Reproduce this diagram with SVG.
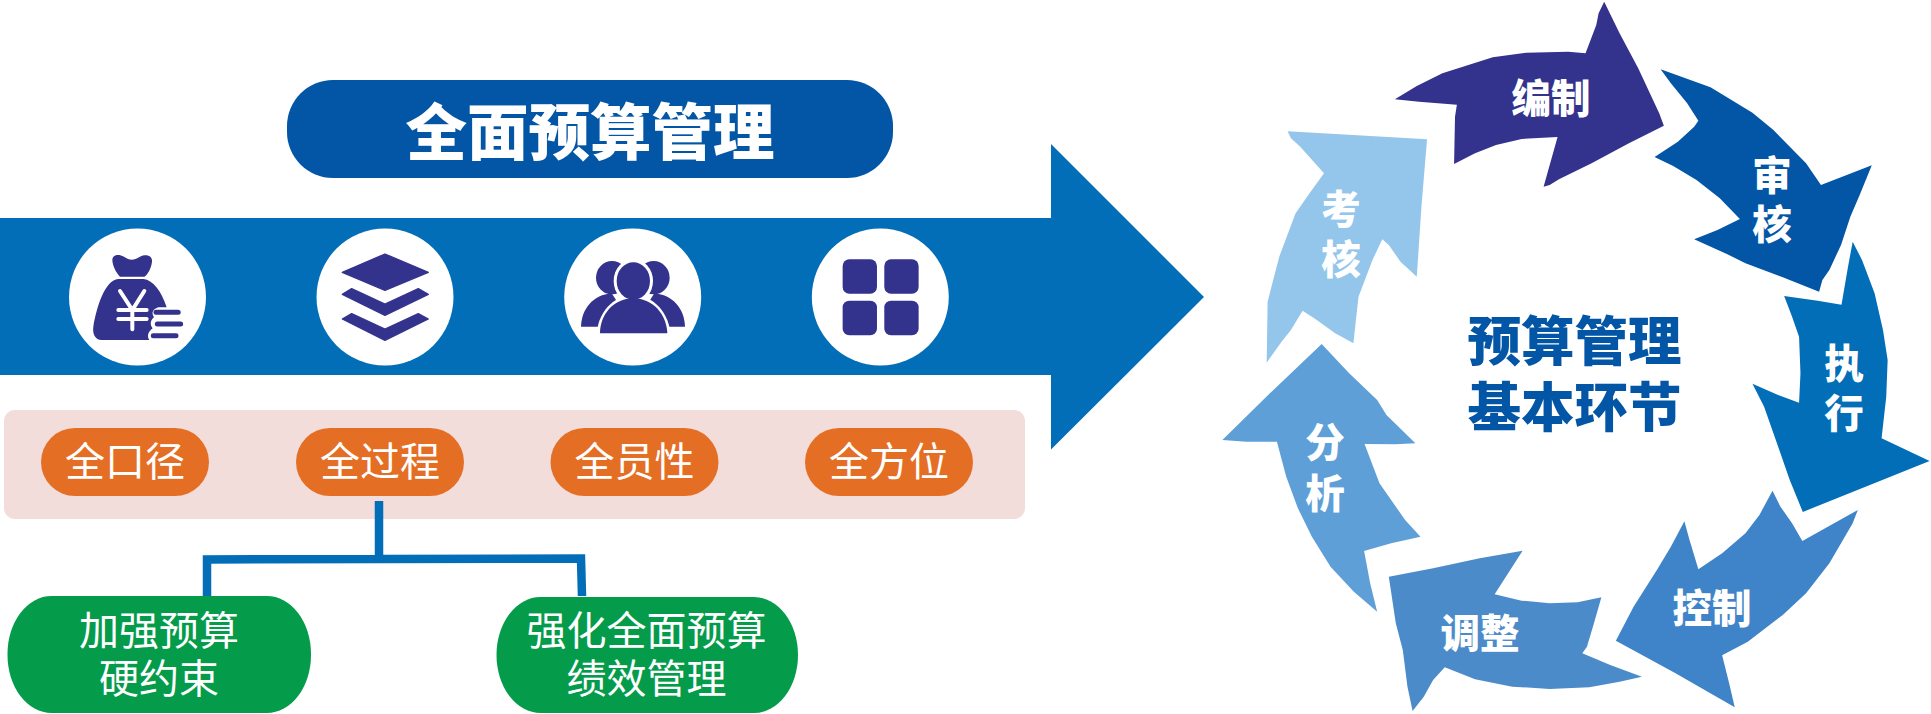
<svg xmlns="http://www.w3.org/2000/svg" width="1931" height="714" viewBox="0 0 1931 714">
<style>
text{font-family:"Noto Sans CJK SC","Noto Sans",sans-serif;text-anchor:middle;dominant-baseline:central;fill:#fff}
.pill{font-size:40px;font-weight:400}
.green{font-size:40px;font-weight:400}
.lab{font-size:39.500px;font-weight:900}
.ctr{font-size:53.500px;font-weight:900;fill:#0356a6}
.ink{fill:#33328d}
.circ{fill:#fff}
.or{fill:#e56e25}
.gr{fill:#049b4b}
</style>
<rect width="1931" height="714" fill="#fff"/>
<g id="main-arrow"><polygon points="0,218 1051,218 1051,144 1204,297 1051,449.500 1051,375 0,375" fill="#036eb8"/></g>
<g id="title"><rect x="287" y="80" width="606" height="98" rx="46" fill="#0356a6"/><text x="590" y="128" font-size="61.500" font-weight="900">全面预算管理</text></g>
<g id="icon-bag"><circle class="circ" cx="137.500" cy="297" r="68.500"/>
<g transform="translate(50,230) scale(.3333)">
<path class="ink" d="M187 90C187 75 205 70 222 80C240 92 250 92 270 80C290 70 308 78 306 95C304 115 292 135 283 140H210C200 130 188 110 187 90Z"/>
<path class="ink" d="M205 147H280C310 150 335 185 350 232H325C305 240 305 250 312 262C300 272 300 285 308 295C295 305 290 318 298 330H155C135 330 127 310 130 290C140 230 165 150 205 147Z"/>
<path d="M210 183L247 240L283 183M247 240V298M205 240H290M205 267H290" fill="none" stroke="#fff" stroke-width="12" stroke-linecap="round"/>
<path d="M318 247H385M322 282H392M310 317H378" fill="none" stroke="#33328d" stroke-width="15" stroke-linecap="round"/>
</g></g>
<g id="icon-layers"><circle class="circ" cx="385" cy="297" r="68.500"/>
<g transform="translate(50,230) scale(.3333)" stroke="#33328d" stroke-width="4" stroke-linejoin="round">
<polygon class="ink" points="877,127 1005,72 1135,127 1005,181"/>
<polygon class="ink" points="877,193 905,176 1005,222 1105,176 1135,193 1005,256"/>
<polygon class="ink" points="877,267 905,251 1005,297 1105,251 1135,267 1005,331"/>
</g></g>
<g id="icon-people"><circle class="circ" cx="632.700" cy="297" r="68.500"/>
<g transform="translate(550,230) scale(.3333)">
<ellipse class="ink" cx="186" cy="143" rx="48" ry="50"/><ellipse class="ink" cx="311" cy="143" rx="48" ry="50"/>
<path class="ink" d="M93 290C95 235 130 195 185 190L250 290Z"/><path class="ink" d="M405 290C403 235 368 195 313 190L250 290Z"/>
<ellipse cx="250" cy="153" rx="59" ry="66" fill="#fff"/>
<path d="M140 320C140 250 190 195 250 195C310 195 360 250 362 320Z" fill="#fff"/>
<ellipse class="ink" cx="250" cy="153" rx="50" ry="56"/>
<path class="ink" d="M150 310C150 255 190 205 250 205C310 205 350 255 352 310Z"/>
</g></g>
<g id="icon-grid"><circle class="circ" cx="880.300" cy="297" r="68.500"/>
<g transform="translate(550,230) scale(.3333)">
<rect class="ink" x="878" y="88" width="103" height="103" rx="20"/><rect class="ink" x="1003" y="88" width="103" height="103" rx="20"/>
<rect class="ink" x="878" y="212" width="103" height="104" rx="20"/><rect class="ink" x="1003" y="212" width="103" height="104" rx="20"/>
</g></g>
<g id="panel"><rect x="4" y="410" width="1021" height="109" rx="11" fill="#f2dddb"/></g>
<g id="connectors">
<path d="M379 501V559M207 596V559.500L581 558.500L582 596" fill="none" stroke="#036eb8" stroke-width="8.500"/>
</g>
<g id="p1"><rect class="or" x="41" y="428" width="168" height="68" rx="34"/><text class="pill" x="125" y="459">全口径</text></g>
<g id="p2"><rect class="or" x="296" y="428" width="168" height="68" rx="34"/><text class="pill" x="380" y="459">全过程</text></g>
<g id="p3"><rect class="or" x="550.500" y="428" width="168" height="68" rx="34"/><text class="pill" x="634.500" y="459">全员性</text></g>
<g id="p4"><rect class="or" x="805" y="428" width="168" height="68" rx="34"/><text class="pill" x="889" y="459">全方位</text></g>
<g id="g1"><rect class="gr" x="7.500" y="596" width="303.500" height="117" rx="44" ry="58"/><text class="green" x="159" y="628">加强预算</text><text class="green" x="159" y="676">硬约束</text></g>
<g id="g2"><rect class="gr" x="496.500" y="597" width="301.500" height="116" rx="44" ry="58"/><text class="green" x="646.500" y="628">强化全面预算</text><text class="green" x="646.500" y="676">绩效管理</text></g>

<g id="a-bianzhi"><polygon transform="translate(1200,0) scale(.4662,.3333)" fill="#33328d" points="867,5 855,40 850,75 827,160 790,155 700,158 628,172 520,220 465,258 418,298 470,305 551,314 547,350 545,492 590,460 635,435 690,417 767,411 737,560 750,555 770,538 840,490 920,430 995,377 985,340 965,280 940,205 900,100"/><text class="lab" x="1551" y="95">编制</text></g>
<g id="a-shenhe"><polygon transform="translate(1200,0) scale(.4662,.3333)" fill="#0356a6" points="988,208 1095,262 1185,338 1230,390 1300,490 1332,555 1441,496 1415,585 1395,650 1375,735 1350,810 1335,840 1328,875 1250,832 1170,790 1130,762 1060,718 1110,690 1158,657 1115,595 1065,540 1015,498 975,471 1025,425 1060,380 1069,362 1045,310 1010,250"/><text class="lab" x="1772" y="172">审</text><text class="lab" x="1772" y="221">核</text></g>
<g id="a-zhixing"><polygon transform="translate(1200,0) scale(.4662,.3333)" fill="#036eb8" points="1400,725 1420,780 1447,880 1465,990 1475,1080 1472,1190 1462,1315 1565,1383 1293,1536 1265,1440 1230,1300 1210,1220 1185,1151 1240,1185 1285,1208 1288,1120 1285,1010 1270,950 1253,888 1325,902 1376,914 1390,800"/><text class="lab" x="1844" y="360">执</text><text class="lab" x="1844" y="410">行</text></g>
<g id="a-kongzhi"><polygon transform="translate(1200,340) scale(.4662,.3333)" fill="#3f84c8" points="1228,452 1245,500 1270,550 1292,603 1411,510 1400,550 1350,670 1300,760 1250,825 1175,905 1120,946 1135,1030 1147,1102 1020,1000 892,902 930,800 980,690 1010,620 1039,544 1050,600 1069,688 1120,640 1170,580 1200,525"/><text class="lab" x="1712" y="605">控制</text></g>
<g id="a-tiaozheng"><polygon transform="translate(1200,340) scale(.4662,.3333)" fill="#4c8bca" points="692,632 632,763 690,782 750,790 810,787 861,772 845,850 830,920 820,940 880,975 948,1010 900,1025 835,1042 750,1047 670,1040 590,1018 525,982 500,1020 480,1070 456,1113 445,1040 435,930 420,850 405,710 500,685 600,655"/><text class="lab" x="1480" y="630">调整</text></g>
<g id="a-fenxi"><polygon transform="translate(1200,340) scale(.4662,.3333)" fill="#5e9fd8" points="261,12 320,100 380,180 400,225 462,310 420,313 353,312 385,430 440,540 473,590 410,610 352,633 365,730 380,815 330,755 280,680 240,590 210,505 185,410 165,305 100,305 48,300 150,160"/><text class="lab" x="1325" y="439">分</text><text class="lab" x="1325" y="490">析</text></g>
<g id="a-kaohe"><polygon transform="translate(1200,0) scale(.4662,.3333)" fill="#94c6ec" points="188,394 487,418 475,620 465,830 430,785 405,735 391,718 370,780 340,890 329,1030 290,1000 245,955 220,932 195,990 175,1025 143,1088 145,905 170,770 205,640 235,580 266,520 215,440 195,415"/><text class="lab" x="1341" y="206">考</text><text class="lab" x="1341" y="256">核</text></g>
<g id="center"><text class="ctr" x="1574.500" y="337">预算管理</text><text class="ctr" x="1574.500" y="403">基本环节</text></g>
</svg>
